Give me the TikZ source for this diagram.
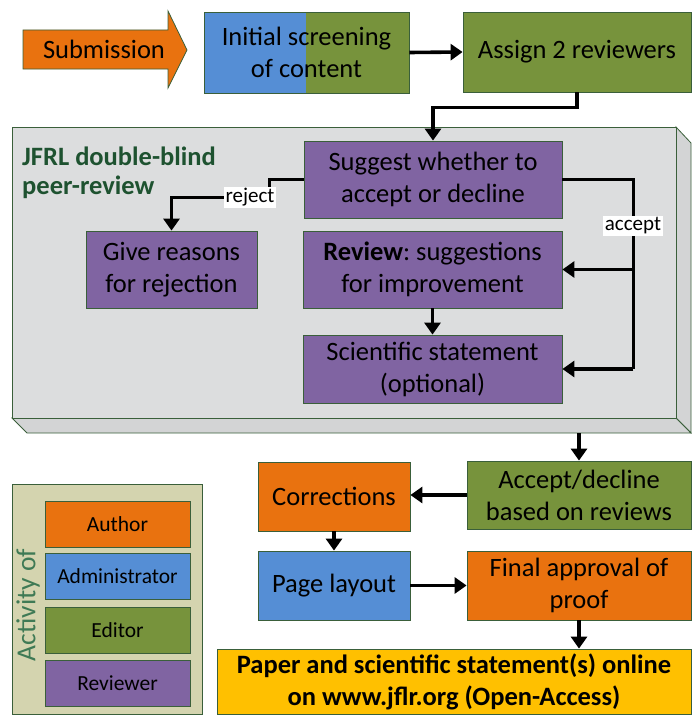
\documentclass[tikz,border=0pt]{standalone}
\usepackage{fontspec}
\setmainfont{Carlito}
\usetikzlibrary{arrows.meta,calc}
\frenchspacing
\definecolor{corange}{HTML}{E9720F}
\definecolor{cblue}{HTML}{558ED5}
\definecolor{cgreen}{HTML}{77933C}
\definecolor{cpurple}{HTML}{8064A2}
\definecolor{cyellow}{HTML}{FFC000}
\definecolor{cedge}{HTML}{3A5F3A}
\definecolor{cgray}{HTML}{DCDDDE}
\definecolor{cgrayside}{HTML}{D3D4D5}
\definecolor{ckhaki}{HTML}{D4D4AF}
\definecolor{ctitle}{HTML}{1E5230}
\definecolor{cact}{HTML}{3F7A55}
\tikzset{
  box/.style={draw=cedge, line width=0.8pt, inner sep=0pt, align=center,
    font=\fontsize{26.5}{32}\selectfont},
  legbox/.style={draw=cedge, line width=0.8pt, inner sep=0pt, align=center,
    minimum width=145pt, minimum height=46pt, font=\fontsize{21.5}{24}\selectfont},
  arr/.style={line width=3.6pt, -{Triangle[length=12pt,width=16pt]}},
  plain/.style={line width=3.6pt},
  lbl/.style={fill=white, inner sep=1.5pt, font=\fontsize{21}{24}\selectfont},
}
\begin{document}
\begin{tikzpicture}[x=1pt,y=-1pt]
\useasboundingbox (0,0) rectangle (696,717);
% Submission arrow
\draw[draw=cedge, fill=corange, line width=0.8pt]
  (23,30) -- (168,30) -- (168,11) -- (187,50) -- (168,88) -- (168,69) -- (23,69) -- cycle;
\node[font=\fontsize{26.5}{32}\selectfont] (sub) at (104,49) {Submission};
% Initial screening (split colour)
\fill[cblue] (204,12) rectangle (306,93);
\fill[cgreen] (306,12) rectangle (409,93);
\node[box, minimum width=205pt, minimum height=81pt] (init) at (306.5,52.5) {Initial screening\\of content};
% Assign
\node[box, fill=cgreen, minimum width=228pt, minimum height=80pt] (assign) at (577,52) {Assign 2 reviewers};
\draw[arr] (init.east) -- (assign.west);
% Gray 3D box
\fill[cgrayside, draw=cedge, line width=0.8pt] (676,127) -- (691,143) -- (691,433) -- (676,418) -- cycle;
\fill[cgrayside, draw=cedge, line width=0.8pt] (12,418) -- (676,418) -- (691,433) -- (27,433) -- cycle;
\node[draw=cedge, fill=cgray, line width=0.8pt, minimum width=664pt, minimum height=291pt, inner sep=0pt] (gray) at (344,272.5) {};
\node[anchor=north west, align=left, text=ctitle, font=\bfseries\fontsize{26.5}{29}\selectfont, inner sep=0pt] (title) at (22,147) {JFRL double-blind\\peer-review};
% Reviewer boxes
\node[box, fill=cpurple, minimum width=258pt, minimum height=77pt] (suggest) at (433,179.5) {Suggest whether to\\accept or decline};
\node[box, fill=cpurple, minimum width=171pt, minimum height=77pt] (reasons) at (171.5,269.5) {Give reasons\\for rejection};
\node[box, fill=cpurple, minimum width=259pt, minimum height=77pt] (review) at (432.5,269.5) {\textbf{Review}: suggestions\\for improvement};
\node[box, fill=cpurple, minimum width=259pt, minimum height=68pt] (sci) at (432.5,369) {Scientific statement\\(optional)};
\draw[arr] (assign.south) -- ++(0,15) -| (suggest.north);
\draw[arr] (suggest.west) -- ++(-34,0) -- ++(0,18) -| (reasons.north) node[lbl, pos=0.1] {reject};
\draw[plain] (suggest.east) -- ++(71,0) coordinate (a1) -- (a1 |- sci.east);
\draw[arr] (a1 |- sci.east) -- (sci.east);
\draw[arr] (a1 |- review.east) -- (review.east);
\node[lbl] (acc) at (633,226) {accept};
\draw[arr] (review) -- (sci);
% Lower flow
\node[box, fill=cgreen, minimum width=224pt, minimum height=68pt] (accdec) at (579,495) {Accept/decline\\based on reviews};
\coordinate (gb) at (579,433);
\draw[arr] (gb) -- (accdec.north);
\node[box, fill=corange, minimum width=152pt, minimum height=69pt] (corr) at (334,496.5) {Corrections};
\draw[arr] (accdec.west) -- (accdec.west -| corr.east);
\node[box, fill=cblue, minimum width=152pt, minimum height=69pt] (page) at (334,585.5) {Page layout};
\draw[arr] (corr) -- (page);
\node[box, fill=corange, minimum width=224pt, minimum height=69pt] (final) at (579,585.5) {Final approval of\\proof};
\draw[arr] (page) -- (final);
\node[box, fill=cyellow, minimum width=474pt, minimum height=65pt, font=\bfseries\fontsize{26.5}{32}\selectfont] (paper) at (454,681.5) {Paper and scientific statement(s) online\\on www.jflr.org (Open-Access)};
\draw[arr] (final.south) -- (final.south |- paper.north);
% Legend
\node[draw=cedge, fill=ckhaki, line width=0.8pt, minimum width=190pt, minimum height=230pt, inner sep=0pt] (legend) at (107,599) {};
\node[legbox, fill=corange] (lauthor) at (117.5,524) {Author};
\node[legbox, fill=cblue] (ladmin) at (117.5,576) {Administrator};
\node[legbox, fill=cgreen] (leditor) at (117.5,630) {Editor};
\node[legbox, fill=cpurple] (lrev) at (117.5,683.5) {Reviewer};
\node[rotate=90, text=cact, font=\fontsize{27.5}{30}\selectfont, inner sep=0pt] (act) at (28,605) {Activity of};
\end{tikzpicture}
\end{document}
